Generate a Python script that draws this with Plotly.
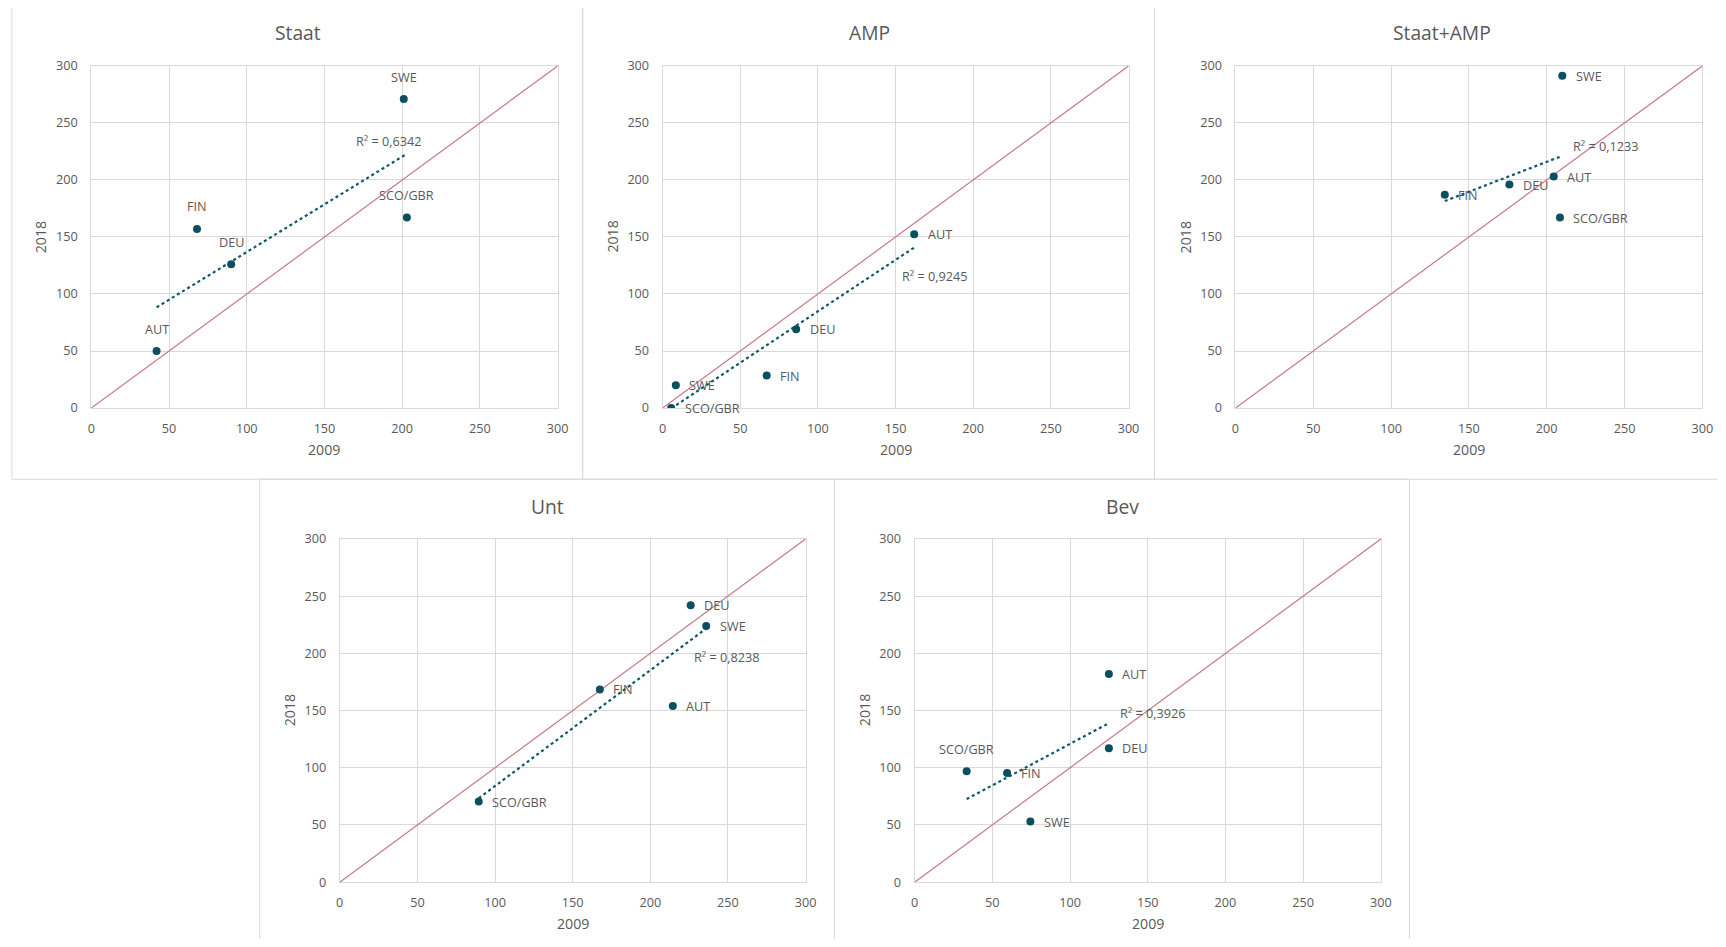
import numpy as np
import plotly.graph_objects as go

# ---------------- data ----------------
countries = ["AUT", "DEU", "FIN", "SCO/GBR", "SWE"]

staat_2009 = [42, 90, 68, 203, 201]
staat_2018 = [50, 126, 157, 167, 271]

amp_2009 = [162, 86, 67, 5.5, 8.5]
amp_2018 = [152.5, 69, 28.5, 0, 20]

staat_amp_2009 = [204.5, 176, 134.5, 208.5, 210]
staat_amp_2018 = [203, 196, 187, 167, 291.5]

unt_2009 = [214.5, 226, 167.5, 89.5, 236]
unt_2018 = [154, 242, 168.5, 70.5, 224]

bev_2009 = [125, 125, 59.5, 33.5, 74.5]
bev_2018 = [182, 117, 95.5, 97, 53]

r2_texts = ["R² = 0,6342", "R² = 0,9245", "R² = 0,1233", "R² = 0,8238", "R² = 0,3926"]
titles = ["Staat", "AMP", "Staat+AMP", "Unt", "Bev"]
diag = [0, 300]
axis_ticks = [0, 50, 100, 150, 200, 250, 300]

# ---------------- layout / style ----------------
OFF = 8
W, H = 1726 - 2 * OFF, 947 - 2 * OFF
FONT = "Open Sans"
TXT = "#595959"
GRID = "#D9D9D9"
MARK = "#0B4F60"
TREND = "#0E5868"
DIAG = "#C7788A"

# capture correction (measured): shown = a + s * page
AX, SX = 3.25, 0.9915
AY, SY = 8.7, 0.981
FS = 1.0 / ((SX + SY) / 2)


def px_x(v):
    page = (v - AX) / SX
    return (page - OFF) / W


def px_y(v):
    page = (v - AY) / SY
    return 1 - (page - OFF) / H


def f(sz):
    return round(sz * FS, 2)


plot_px = [
    (90.5, 557, 64.5, 406.7),
    (662, 1128, 64.5, 406.7),
    (1235, 1702, 64.5, 406.7),
    (339, 805, 537.7, 881),
    (914, 1380.5, 537.7, 881),
]
box_px = [
    (11, 582, 5, 478),
    (582, 1154, 5, 478),
    (1154, 1740, 5, 478),
    (259, 834, 478, 960),
    (834, 1409, 478, 960),
]
title_y = [31.5, 31.5, 31.5, 505.5, 505.5]
title_x = [297, 869, 1442, 546.5, 1122]
label_side = [
    ["top", "top", "top", "top", "top"],
    ["right", "right", "right", "right", "right"],
    ["right", "right", "right", "right", "right"],
    ["right", "right", "right", "right", "right"],
    ["right", "right", "right", "top", "right"],
]
r2_pos = [(191.5, 234), (175, 116), (238, 229.5), (249, 197), (153, 147.5)]

panels = [
    (staat_2009, staat_2018),
    (amp_2009, amp_2018),
    (staat_amp_2009, staat_amp_2018),
    (unt_2009, unt_2018),
    (bev_2009, bev_2018),
]

fig = go.Figure()
annotations = []
shapes = []

for i, ((xs, ys), title) in enumerate(zip(panels, titles)):
    n = "" if i == 0 else str(i + 1)
    xa, ya = "x" + n, "y" + n
    x0, x1, y0, y1 = plot_px[i]
    axis_common = dict(
        range=[0, 300], tickmode="array", tickvals=axis_ticks,
        showgrid=True, gridcolor=GRID, gridwidth=1, zeroline=False,
        showline=True, mirror=True, linecolor=GRID, linewidth=1,
        tickfont=dict(family=FONT, size=f(12.5), color=TXT),
        ticks="", fixedrange=True,
    )
    fig.update_layout({
        "xaxis" + n: dict(axis_common, domain=[px_x(x0), px_x(x1)], anchor=ya,
                          ticklabelstandoff=9),
        "yaxis" + n: dict(axis_common, domain=[px_y(y1), px_y(y0)], anchor=xa,
                          ticklabelstandoff=10),
    })

    # diagonal reference line
    fig.add_trace(go.Scatter(x=diag, y=diag, mode="lines", xaxis=xa, yaxis=ya,
                             line=dict(color=DIAG, width=1.2), hoverinfo="skip"))
    # linear trendline
    xarr = np.array(xs, dtype=float)
    yarr = np.array(ys, dtype=float)
    k, b = np.polyfit(xarr, yarr, 1)
    tx = np.array([xarr.min(), xarr.max()])
    fig.add_trace(go.Scatter(x=tx, y=k * tx + b, mode="lines", xaxis=xa, yaxis=ya,
                             line=dict(color=TREND, width=2.2, dash="dot"),
                             hoverinfo="skip"))
    # points
    fig.add_trace(go.Scatter(x=xs, y=ys, mode="markers", xaxis=xa, yaxis=ya,
                             marker=dict(color=MARK, size=8),
                             text=countries, hovertemplate="%{text}: %{x}, %{y}<extra></extra>"))
    # data labels
    for c, xv, yv, side in zip(countries, xs, ys, label_side[i]):
        if side == "top":
            annotations.append(dict(x=xv, y=yv, xref=xa, yref=ya, text=c, showarrow=False,
                                    xanchor="center", yanchor="middle", yshift=22.5,
                                    font=dict(family=FONT, size=f(12.5), color=TXT)))
        else:
            annotations.append(dict(x=xv, y=yv, xref=xa, yref=ya, text=c, showarrow=False,
                                    xanchor="left", yanchor="middle", xshift=11.5,
                                    font=dict(family=FONT, size=f(12.5), color=TXT)))
    # R² label
    rx, ry = r2_pos[i]
    annotations.append(dict(x=rx, y=ry, xref=xa, yref=ya, text=r2_texts[i], showarrow=False,
                            xanchor="center", yanchor="middle",
                            font=dict(family=FONT, size=f(12.5), color=TXT)))
    # axis titles
    annotations.append(dict(x=0.5, y=0, xref=xa + " domain", yref=ya + " domain",
                            text="2009", showarrow=False, xanchor="center", yanchor="middle",
                            yshift=-41, font=dict(family=FONT, size=f(14), color=TXT)))
    annotations.append(dict(x=0, y=0.5, xref=xa + " domain", yref=ya + " domain",
                            text="2018", showarrow=False, xanchor="center", yanchor="middle",
                            xshift=-50, textangle=-90, font=dict(family=FONT, size=f(14), color=TXT)))
    # chart title & box
    bx0, bx1, by0, by1 = box_px[i]
    annotations.append(dict(x=px_x(title_x[i]), y=px_y(title_y[i]), xref="paper", yref="paper",
                            text=title, showarrow=False, xanchor="center", yanchor="middle",
                            font=dict(family=FONT, size=f(19), color=TXT)))
    shapes.append(dict(type="rect", xref="paper", yref="paper",
                       x0=px_x(bx0), x1=px_x(bx1), y0=px_y(by1), y1=px_y(by0),
                       line=dict(color=GRID, width=1), fillcolor="rgba(0,0,0,0)", layer="below"))

fig.update_layout(
    width=W, height=H, margin=dict(l=0, r=0, t=0, b=0),
    paper_bgcolor="white", plot_bgcolor="white", showlegend=False,
    annotations=annotations, shapes=shapes,
    font=dict(family=FONT, color=TXT),
)

fig.write_html("out.html", config={"displayModeBar": False})
